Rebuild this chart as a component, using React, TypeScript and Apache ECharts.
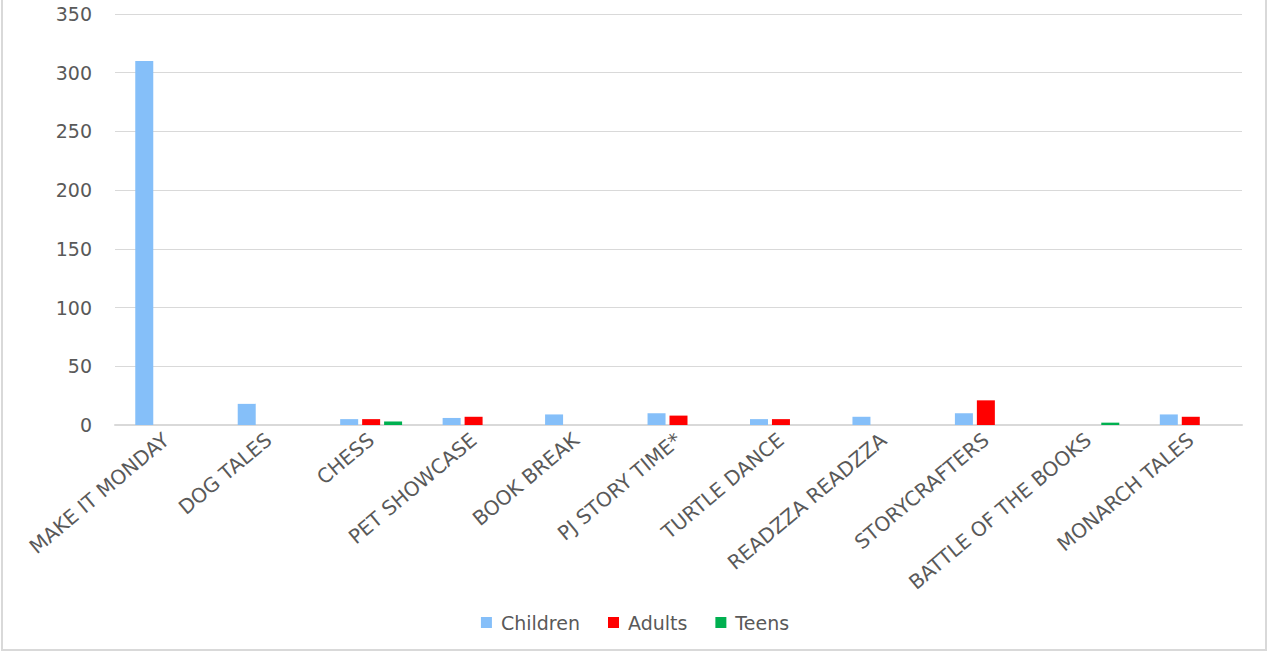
import React, { useEffect, useRef } from "react";
import * as echarts from "echarts";

const categories = [
  "MAKE IT MONDAY",
  "DOG TALES",
  "CHESS",
  "PET SHOWCASE",
  "BOOK BREAK",
  "PJ STORY TIME*",
  "TURTLE DANCE",
  "READZZA READZZA",
  "STORYCRAFTERS",
  "BATTLE OF THE BOOKS",
  "MONARCH TALES",
];
const children = [310, 18, 5, 6, 9, 10, 5, 7, 10, null, 9];
const adults = [null, null, 5, 7, null, 8, 5, null, 21, null, 7];
const teens = [null, null, 3, null, null, null, null, null, null, 2, null];

const FONT = "'DejaVu Sans', 'Open Sans', sans-serif";

export default function App() {
  const ref = useRef<HTMLDivElement>(null);
  useEffect(() => {
    if (!ref.current) return;
    const chart = echarts.init(ref.current, undefined, { renderer: "svg" });
    const bar = (name: string, data: any[], color: string) => ({
      name,
      type: "bar",
      data,
      barWidth: 18,
      barGap: "22%",
      itemStyle: { color },
    });
    chart.setOption({
      animation: false,
      backgroundColor: "transparent",
      textStyle: { fontFamily: FONT },
      grid: { left: 115, right: 28, top: 14, bottom: 231, containLabel: false },
      legend: {
        top: 608,
        left: "center",
        itemWidth: 11,
        itemHeight: 11,
        itemGap: 28,
        icon: "rect",
        textStyle: { color: "#595959", fontSize: 19, fontFamily: FONT, padding: [0, 0, 0, 4] },
        data: ["Children", "Adults", "Teens"],
      },
      xAxis: {
        type: "category",
        data: categories,
        axisTick: { show: false },
        axisLine: { lineStyle: { color: "#d9d9d9", width: 2 } },
        axisLabel: {
          rotate: 40,
          color: "#595959",
          fontSize: 20,
          fontFamily: FONT,
          margin: 12,
          interval: 0,
        },
      },
      yAxis: {
        type: "value",
        min: 0,
        max: 350,
        interval: 50,
        axisLine: { show: false },
        axisTick: { show: false },
        splitLine: { lineStyle: { color: "#d9d9d9", width: 1 } },
        axisLabel: { color: "#595959", fontSize: 19, fontFamily: FONT, margin: 23 },
      },
      series: [
        bar("Children", children, "#85bff9"),
        bar("Adults", adults, "#ff0000"),
        bar("Teens", teens, "#00b050"),
      ],
    });
    return () => chart.dispose();
  }, []);
  return (
    <div
      style={{
        position: "fixed",
        left: 0,
        top: 0,
        width: 1270,
        height: 656,
        background: "#fff",
      }}
    >
      <div
        style={{
          position: "absolute",
          left: 1,
          top: -2,
          width: 1266,
          height: 653,
          border: "2px solid #d9d9d9",
          boxSizing: "border-box",
        }}
      />
      <div ref={ref} style={{ position: "absolute", left: 0, top: 0, width: 1270, height: 656 }} />
    </div>
  );
}
